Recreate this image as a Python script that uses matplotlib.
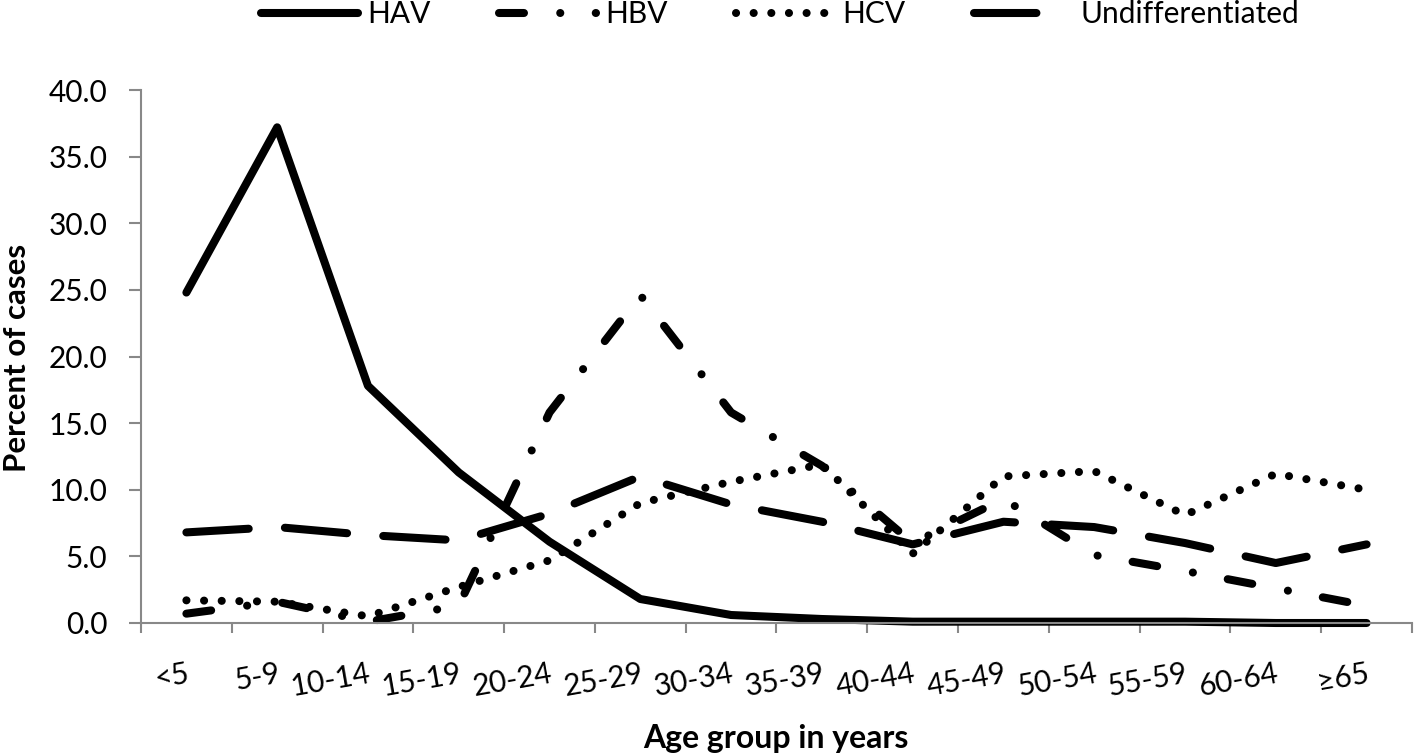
# Hepatitis cases by age group - line chart

import numpy as np
import matplotlib
matplotlib.use("Agg")
import matplotlib.pyplot as plt

# -------------------------------------------------
# Data (percent of cases per age group)
# -------------------------------------------------

age_groups = ["<5", "5-9", "10-14", "15-19", "20-24", "25-29", "30-34",
              "35-39", "40-44", "45-49", "50-54", "55-59", "60-64", "≥65"]

hav = [24.8, 37.2, 17.8, 11.3, 6.1, 1.8, 0.6, 0.3, 0.1, 0.1, 0.1, 0.1, 0.0, 0.0]
hbv = [0.7, 1.6, 0.1, 1.3, 15.8, 24.6, 15.8, 11.8, 6.0, 9.3, 5.1, 3.9, 2.6, 1.3]
hcv = [1.7, 1.6, 0.5, 2.7, 4.7, 9.0, 10.6, 11.9, 5.2, 11.0, 11.4, 8.1, 11.2, 10.0]
undiff = [6.8, 7.2, 6.6, 6.2, 8.2, 11.0, 8.9, 7.6, 5.9, 7.6, 7.2, 6.0, 4.5, 5.9]

# -------------------------------------------------
# Figure setup
# -------------------------------------------------

plt.rcParams["font.family"] = ["Lato", "DejaVu Sans"]

W, H = 1416, 756
fig = plt.figure(figsize=(W / 100, H / 100), dpi=100)
ax = fig.add_axes([141 / W, 1 - 623 / H, (1412 - 141) / W, (623 - 90) / H])

x = np.arange(len(age_groups))
lw = 5.8
grey = "#888888"

# -------------------------------------------------
# Lines
# -------------------------------------------------

l1, = ax.plot(x, hav, color="black", lw=lw, solid_capstyle="round",
              solid_joinstyle="round", clip_on=False, label="HAV")
l2, = ax.plot(x, hbv, color="black", lw=lw, linestyle=(0, (3.1, 4.5, 0.01, 4.4)),
              dash_capstyle="round", dash_joinstyle="round", clip_on=False, label="HBV")
l3, = ax.plot(x, hcv, color="black", lw=lw, linestyle=(0, (0.01, 2.18)),
              dash_capstyle="round", dash_joinstyle="round", clip_on=False, label="HCV")
l4, = ax.plot(x, undiff, color="black", lw=lw, linestyle=(0, (7.75, 4.5)),
              dash_capstyle="round", dash_joinstyle="round", clip_on=False,
              label="Undifferentiated")

# -------------------------------------------------
# Axes
# -------------------------------------------------

ax.set_xlim(-0.5, len(age_groups) - 0.5)
ax.set_ylim(0, 40)

yt = np.arange(0, 41, 5)
ax.set_yticks(yt)
ax.set_yticklabels(["%.1f" % v for v in yt], fontsize=21.5)

ax.set_xticks(x)
ax.set_xticklabels(age_groups, fontsize=21.5, rotation=10, ha="right",
                   va="top", rotation_mode="anchor")
ax.set_xticks(np.arange(-0.5, len(age_groups)), minor=True)

ax.tick_params(axis="x", which="major", length=0, pad=26)
ax.tick_params(axis="x", which="minor", length=7, width=1.5, color=grey, direction="out")
ax.tick_params(axis="y", length=8.5, width=1.5, color=grey, direction="out", pad=15.8)

for side in ["top", "right"]:
    ax.spines[side].set_visible(False)
for side in ["left", "bottom"]:
    ax.spines[side].set_color(grey)
    ax.spines[side].set_linewidth(1.5)

fig.text(17 / W, 1 - 358 / H, "Percent of cases", rotation=90, ha="center",
         va="center", fontsize=22.5, fontweight="bold")
fig.text(776 / W, 1 - 748 / H, "Age group in years", ha="center",
         va="baseline", fontsize=23, fontweight="bold")

# -------------------------------------------------
# Legend
# -------------------------------------------------

fig.legend(handles=[l1, l2, l3, l4], loc="center", bbox_to_anchor=(780 / W, 1 - 14 / H),
           ncol=4, frameon=False, fontsize=21.5, handlelength=3.25,
           handletextpad=0.3, columnspacing=2.3, borderaxespad=0, borderpad=0)

fig.savefig("out.png", dpi=100)
plt.close(fig)
